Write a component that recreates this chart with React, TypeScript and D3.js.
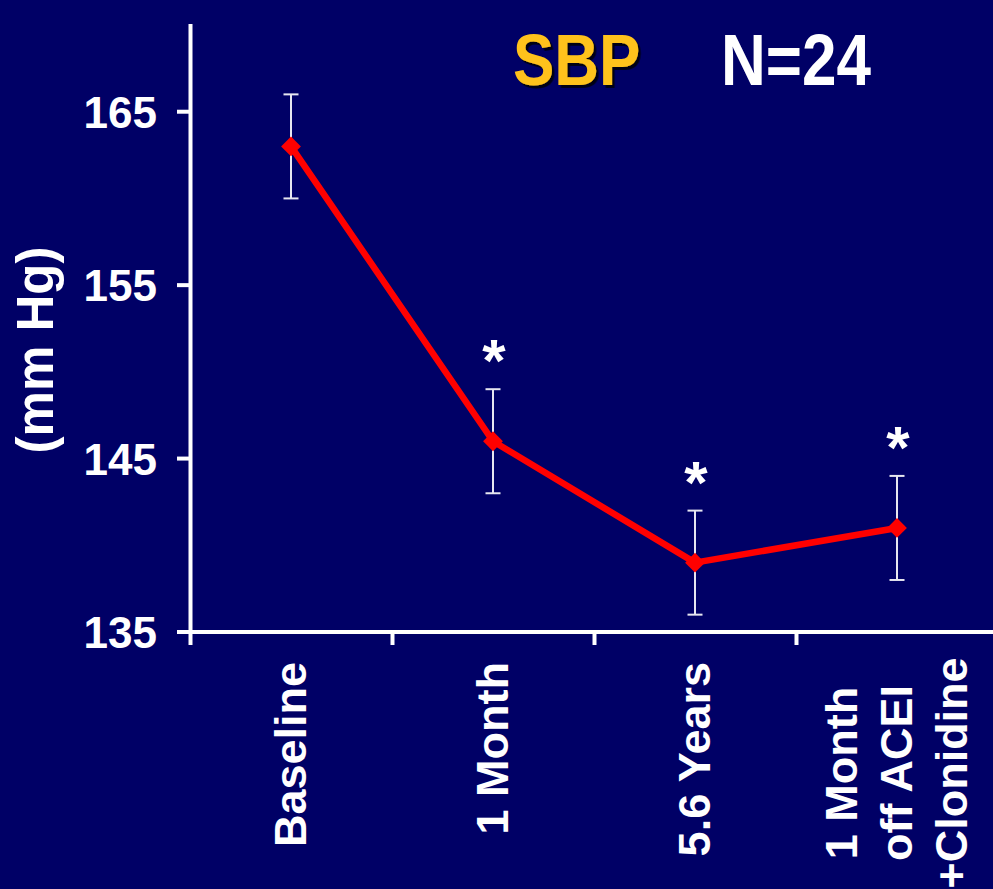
import React from "react";
import * as d3 from "d3";

const categories: string[][] = [["Baseline"], ["1 Month"], ["5.6 Years"], ["1 Month", "off ACEI", "+Clonidine"]];
const means: number[] = [163, 146, 139, 141];
const errLow: number[] = [160, 143, 136, 138];
const errHigh: number[] = [166, 149, 142, 144];
const significant: boolean[] = [false, true, true, true];
const yTicks: number[] = [135, 145, 155, 165];
const titleLeft = "SBP";
const titleRight = "N=24";
const yLabel = "(mm Hg)";

const W = 993;
const H = 889;
const BG = "#000066";
const FONT = "'Liberation Sans', Arial, Helvetica, sans-serif";

export default function App() {
  const keys = categories.map((_, i) => String(i));
  const x = d3.scaleBand<string>().domain(keys).range([190, 998]).padding(0);
  const y = d3.scaleLinear().domain([135, 170]).range([632, 25]);
  const cx = (i: number) => (x(String(i)) as number) + x.bandwidth() / 2;

  const line = d3
    .line<number>()
    .x((_, i) => cx(i))
    .y((d) => y(d));

  const diamond = d3.symbol().type(d3.symbolDiamond2).size(250)();

  return (
    <svg
      width={W}
      height={H}
      style={{ position: "absolute", left: 0, top: 0, background: BG }}
      fontFamily={FONT}
      fontWeight="bold"
    >
      <defs>
        <filter id="shadow" x="-10%" y="-10%" width="130%" height="130%">
          <feDropShadow dx={2.5} dy={2.5} stdDeviation={0.6} floodColor="#000000" floodOpacity={0.8} />
        </filter>
      </defs>
      <rect x={0} y={0} width={W} height={H} fill={BG} />

      {/* Title */}
      <g transform="translate(513,85) scale(1,1.17)">
        <text x={0} y={0} fontSize={62} fill="#FFC21A" filter="url(#shadow)">
          {titleLeft}
        </text>
      </g>
      <g transform="translate(721,85) scale(1,1.17)">
        <text x={0} y={0} fontSize={62} fill="#FFFFFF">
          {titleRight}
        </text>
      </g>

      {/* Y axis label */}
      <text
        transform={`translate(53,350) rotate(-90)`}
        textAnchor="middle"
        fontSize={51}
        fill="#FFFFFF"
      >
        {yLabel}
      </text>

      {/* Y axis */}
      <line x1={190.5} x2={190.5} y1={24} y2={634} stroke="#FFFFFF" strokeWidth={4} />
      {yTicks.map((t) => (
        <g key={t}>
          <line x1={177} x2={190} y1={y(t)} y2={y(t)} stroke="#FFFFFF" strokeWidth={4} />
          <text x={157} y={y(t) + 16} textAnchor="end" fontSize={44} fill="#FFFFFF">
            {t}
          </text>
        </g>
      ))}

      {/* X axis */}
      <line x1={177} x2={W} y1={632} y2={632} stroke="#FFFFFF" strokeWidth={4} />
      {keys.map((k) => (
        <line
          key={k}
          x1={(x(k) as number) + 0.5}
          x2={(x(k) as number) + 0.5}
          y1={632}
          y2={645}
          stroke="#FFFFFF"
          strokeWidth={4}
        />
      ))}

      {/* X labels */}
      {categories.map((lines, i) => {
        if (lines.length === 1) {
          return (
            <text
              key={i}
              transform={`translate(${cx(i) + 15},662) rotate(-90)`}
              textAnchor="end"
              fontSize={45}
              fill="#FFFFFF"
            >
              {lines[0]}
            </text>
          );
        }
        const mid = (lines.length - 1) / 2;
        return (
          <g key={i}>
            {lines.map((l, j) => (
              <text
                key={j}
                transform={`translate(${cx(i) + 15 + (j - mid) * 55},773) rotate(-90)`}
                textAnchor="middle"
                fontSize={45}
                fill="#FFFFFF"
              >
                {l}
              </text>
            ))}
          </g>
        );
      })}

      {/* Error bars */}
      {means.map((_, i) => (
        <g key={i} stroke="#E6E6F0" strokeWidth={2}>
          <line x1={cx(i)} x2={cx(i)} y1={y(errHigh[i])} y2={y(errLow[i])} />
          <line x1={cx(i) - 7.5} x2={cx(i) + 7.5} y1={y(errHigh[i])} y2={y(errHigh[i])} />
          <line x1={cx(i) - 7.5} x2={cx(i) + 7.5} y1={y(errLow[i])} y2={y(errLow[i])} />
        </g>
      ))}

      {/* Line */}
      <path d={line(means) || ""} fill="none" stroke="#FF0000" strokeWidth={6.5} strokeLinejoin="round" />
      {means.map((m, i) => (
        <path key={i} d={diamond || ""} transform={`translate(${cx(i)},${y(m)})`} fill="#FF0000" />
      ))}

      {/* Significance asterisks */}
      {significant.map((s, i) =>
        s ? (
          <text
            key={i}
            x={cx(i) + 1}
            y={y(errHigh[i]) - 8}
            textAnchor="middle"
            fontSize={60}
            fill="#FFFFFF"
          >
            *
          </text>
        ) : null
      )}
    </svg>
  );
}
